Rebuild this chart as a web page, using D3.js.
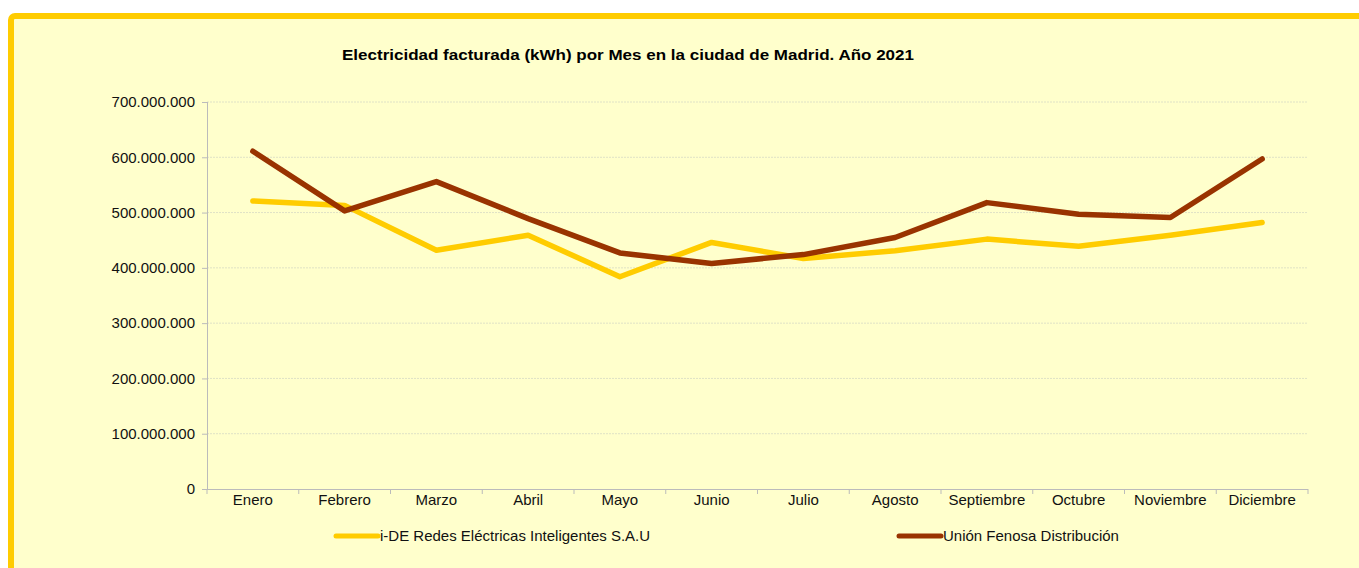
<!DOCTYPE html>
<html><head><meta charset="utf-8">
<script src="https://cdn.jsdelivr.net/npm/d3@7"></script>
<style>html,body{margin:0;padding:0;background:#fff;overflow:hidden}</style>
</head><body>
<svg id="c" width="1359" height="568"></svg>
<script>
const months = ["Enero","Febrero","Marzo","Abril","Mayo","Junio","Julio","Agosto","Septiembre","Octubre","Noviembre","Diciembre"];
const seriesNames = ["i-DE Redes Eléctricas Inteligentes S.A.U","Unión Fenosa Distribución"];
const ideValues = [521000000,513000000,432000000,459000000,384000000,446000000,417000000,431000000,452000000,439000000,459000000,482000000];
const ufdValues = [611000000,503000000,556000000,489000000,427000000,408000000,424000000,455000000,518000000,497000000,491000000,597000000];
const yTicks = [0,100000000,200000000,300000000,400000000,500000000,600000000,700000000];
const title = "Electricidad facturada (kWh) por Mes en la ciudad de Madrid. Año 2021";
const colors = ["#FFCC00","#993300"];

const svg = d3.select("#c");
const font = "'Liberation Sans', Arial, sans-serif";
svg.append("rect").attr("x",11).attr("y",16).attr("width",1420).attr("height",620)
  .attr("rx",4).attr("fill","#FFFFCC").attr("stroke","#FFCC00").attr("stroke-width",6);

const L=207,R=1308,T=102,B=489;
const x = d3.scaleBand().domain(months).range([L,R]);
const y = d3.scaleLinear().domain([0,700000000]).range([B,T]);
const fmt = v => d3.format(",")(v).replace(/,/g,".");

// grid
svg.append("g").selectAll("line").data(yTicks.slice(1)).join("line")
  .attr("x1",L).attr("x2",R).attr("y1",d=>y(d)).attr("y2",d=>y(d))
  .attr("stroke","#dfe2c6").attr("stroke-width",1).attr("stroke-dasharray","2,1");

svg.append("text").attr("x",342).attr("y",60)
  .attr("font-family",font).attr("font-size",15.5).attr("font-weight","bold")
  .attr("textLength",572).attr("lengthAdjust","spacingAndGlyphs").text(title);

const ya = svg.append("g").attr("transform",`translate(${L},0)`)
  .call(d3.axisLeft(y).tickValues(yTicks).tickFormat(fmt).tickSize(5).tickPadding(7));
const xa = svg.append("g").attr("transform",`translate(0,${B})`)
  .call(d3.axisBottom(x).tickSize(0).tickPadding(5));
// category boundary ticks
svg.append("g").selectAll("line").data(months.concat(["_end"])).join("line")
  .attr("x1",(d,i)=>L+i*x.step()).attr("x2",(d,i)=>L+i*x.step())
  .attr("y1",B).attr("y2",B+5).attr("stroke","#bbb");
[ya,xa].forEach(a=>{
  a.selectAll("path,line").attr("stroke","#bbb");
  a.selectAll("text").attr("font-family",font).attr("font-size",15).attr("fill","#111");
});
xa.select(".domain").attr("d",`M${L},0.5H${R}`);
ya.select(".domain").attr("d",`M0.5,${B}V${T}`);

const line = d3.line().x((d,i)=>x(months[i])+x.bandwidth()/2).y(d=>y(d));
[ideValues,ufdValues].forEach((vals,k)=>{
  svg.append("path").datum(vals).attr("d",line).attr("fill","none")
    .attr("stroke",colors[k]).attr("stroke-width",5.5)
    .attr("stroke-linejoin","round").attr("stroke-linecap","round");
});

// legend
const legX=[336,899];
seriesNames.forEach((n,k)=>{
  svg.append("line").attr("x1",legX[k]).attr("x2",legX[k]+42).attr("y1",536).attr("y2",536)
    .attr("stroke",colors[k]).attr("stroke-width",5).attr("stroke-linecap","round");
  svg.append("text").attr("x",legX[k]+44).attr("y",541).attr("font-family",font)
    .attr("font-size",15).attr("fill","#111").text(n);
});
</script>
</body></html>
